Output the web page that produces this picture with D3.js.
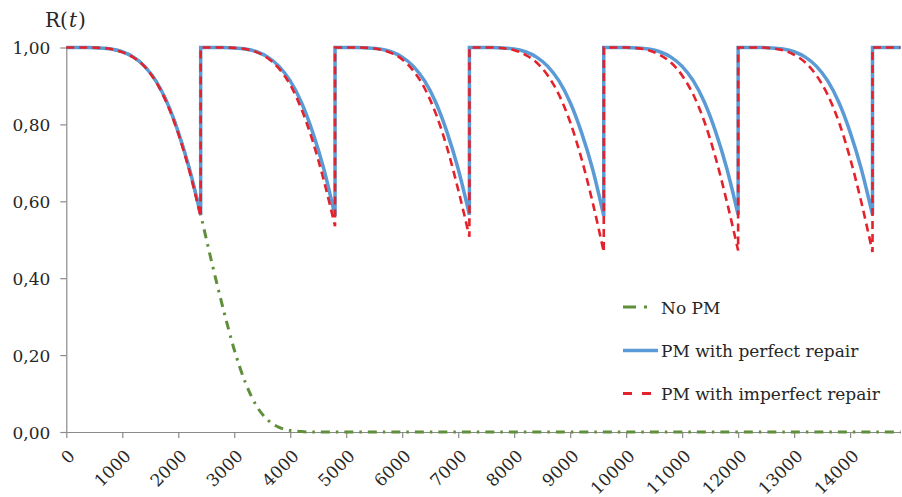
<!DOCTYPE html>
<html>
<head>
<meta charset="utf-8">
<script src="https://cdn.jsdelivr.net/npm/d3@7"></script>
<style>
  body { margin: 0; background: #fff; }
  svg text { font-family: "DejaVu Serif", serif; fill: #262626; }
</style>
</head>
<body>
<svg id="chart"></svg>
<script>
// hours inside one PM interval (PM every 2400 h)
const pmTimes = [0, 2400, 4800, 7200, 9600, 12000, 14400];
const cycleHours = [0, 200, 400, 600, 800, 1000, 1200, 1400, 1600, 1800, 2000, 2200, 2400];
const tailHours = [0, 200, 400, 500];

// PM with perfect repair, one row per interval
const perfectR = [
    [1, 1, 1, 0.999, 0.996, 0.989, 0.975, 0.951, 0.913, 0.857, 0.780, 0.684, 0.565],
    [1, 1, 1, 0.999, 0.996, 0.989, 0.975, 0.951, 0.913, 0.857, 0.780, 0.684, 0.562],
    [1, 1, 1, 0.999, 0.996, 0.989, 0.975, 0.951, 0.913, 0.857, 0.780, 0.684, 0.565],
    [1, 1, 1, 0.999, 0.996, 0.989, 0.975, 0.951, 0.913, 0.857, 0.780, 0.684, 0.562],
    [1, 1, 1, 0.999, 0.996, 0.989, 0.975, 0.951, 0.913, 0.857, 0.780, 0.684, 0.565],
    [1, 1, 1, 0.999, 0.996, 0.989, 0.975, 0.951, 0.913, 0.857, 0.780, 0.684, 0.565],
    [1, 1, 1, 1]
];

// PM with imperfect repair
const imperfectR = [
    [1, 1, 1, 0.999, 0.996, 0.988, 0.974, 0.950, 0.911, 0.854, 0.776, 0.678, 0.560],
    [1, 1, 1, 0.999, 0.996, 0.988, 0.972, 0.945, 0.903, 0.840, 0.757, 0.654, 0.535],
    [1, 1, 1, 0.999, 0.995, 0.986, 0.969, 0.939, 0.894, 0.828, 0.740, 0.630, 0.508],
    [1, 1, 1, 0.998, 0.993, 0.981, 0.961, 0.927, 0.877, 0.806, 0.712, 0.598, 0.468],
    [1, 1, 1, 0.998, 0.993, 0.981, 0.961, 0.927, 0.877, 0.806, 0.712, 0.598, 0.472],
    [1, 1, 1, 0.998, 0.993, 0.981, 0.961, 0.927, 0.877, 0.806, 0.712, 0.598, 0.468],
    [1, 1, 1, 1]
];

// No PM
const noPmHours = [0, 200, 400, 600, 800, 1000, 1200, 1400, 1600, 1800, 2000, 2200, 2400,
    2600, 2800, 3000, 3200, 3400, 3600, 3800, 4000, 4200, 4400, 14900];
const noPmR = [1, 1, 1, 0.999, 0.996, 0.989, 0.975, 0.951, 0.913, 0.857, 0.780, 0.684, 0.565,
    0.440, 0.322, 0.214, 0.128, 0.067, 0.031, 0.012, 0.004, 0.001, 0, 0];

const xTicks = [0, 1000, 2000, 3000, 4000, 5000, 6000, 7000, 8000, 9000, 10000, 11000, 12000, 13000, 14000];
const yTicks = [0, 0.2, 0.4, 0.6, 0.8, 1.0];
const seriesNames = ["No PM", "PM with perfect repair", "PM with imperfect repair"];

const width = 902, height = 497;
const margin = { top: 47.5, right: 1.5, bottom: 65, left: 66.3 };

const svg = d3.select("#chart").attr("width", width).attr("height", height);

const x = d3.scaleLinear().domain([0, 14900]).range([margin.left, width - margin.right]);
const y = d3.scaleLinear().domain([0, 1]).range([height - margin.bottom, margin.top]);

const comma = d3.formatLocale({ decimal: ",", thousands: ".", grouping: [3], currency: ["", ""] });

// axes
const axisColor = "#8a8a8a";
const yAxis = svg.append("g")
    .attr("transform", `translate(${margin.left},0)`)
    .call(d3.axisLeft(y).tickValues(yTicks).tickSize(6).tickSizeOuter(0).tickPadding(10)
        .tickFormat(comma.format(".2f")));
yAxis.selectAll("text").attr("font-size", "17px").attr("dy", "0.36em");

const xAxis = svg.append("g")
    .attr("transform", `translate(0,${y(0)})`)
    .call(d3.axisBottom(x).tickValues(xTicks).tickSize(6).tickSizeOuter(0).tickFormat(d3.format("d")));
xAxis.selectAll("text")
    .attr("font-size", "17px")
    .attr("text-anchor", "end")
    .attr("dy", "0.35em")
    .attr("transform", "translate(5,21) rotate(-45)")
    .attr("y", 0).attr("x", 0);

svg.selectAll(".domain, .tick line").attr("stroke", axisColor).attr("stroke-width", 1.2);
svg.selectAll(".tick text").attr("fill", "#262626").attr("font-family", "DejaVu Serif, serif");

// title on y axis
const title = svg.append("text").attr("x", 45).attr("y", 27).attr("font-size", "20px");
title.append("tspan").text("R(");
title.append("tspan").attr("font-style", "italic").attr("dx", 1).text("t");
title.append("tspan").attr("dx", 1).text(")");

// build one path through all PM intervals, vertical jump at each PM
const line = d3.line().x(d => x(d[0])).y(d => y(d[1])).curve(d3.curveMonotoneX);
function cyclePath(rows) {
    return rows.map((vals, i) => {
        const hrs = vals.length === tailHours.length ? tailHours : cycleHours;
        return line(vals.map((v, j) => [pmTimes[i] + hrs[j], v]));
    }).join("").replace(/M/g, "L").replace(/^L/, "M");
}

const green = "#5f8f3a", blue = "#5b9bd5", red = "#e3222b";

svg.append("path")
    .attr("d", line(noPmHours.map((h, i) => [h, noPmR[i]])))
    .attr("fill", "none").attr("stroke", green).attr("stroke-width", 3)
    .attr("stroke-dasharray", "9,6,2.5,6");

svg.append("path")
    .attr("d", cyclePath(perfectR))
    .attr("fill", "none").attr("stroke", blue).attr("stroke-width", 3.5);

svg.append("path")
    .attr("d", cyclePath(imperfectR))
    .attr("fill", "none").attr("stroke", red).attr("stroke-width", 2.6)
    .attr("stroke-dasharray", "8,5");

// legend
const legend = svg.append("g").attr("transform", "translate(623,0)");
const legendRows = [
    { name: seriesNames[0], color: green, dash: "13,8,3,30", w: 3, yy: 307 },
    { name: seriesNames[1], color: blue, dash: null, w: 3.5, yy: 350.5 },
    { name: seriesNames[2], color: red, dash: "9,10,9,20", w: 3, yy: 393.5 }
];
legendRows.forEach(r => {
    legend.append("line")
        .attr("x1", 0).attr("x2", 35).attr("y1", r.yy).attr("y2", r.yy)
        .attr("stroke", r.color).attr("stroke-width", r.w)
        .attr("stroke-dasharray", r.dash);
    legend.append("text")
        .attr("x", 38).attr("y", r.yy + 6.5)
        .attr("font-size", "17px")
        .text(r.name);
});
</script>
</body>
</html>
